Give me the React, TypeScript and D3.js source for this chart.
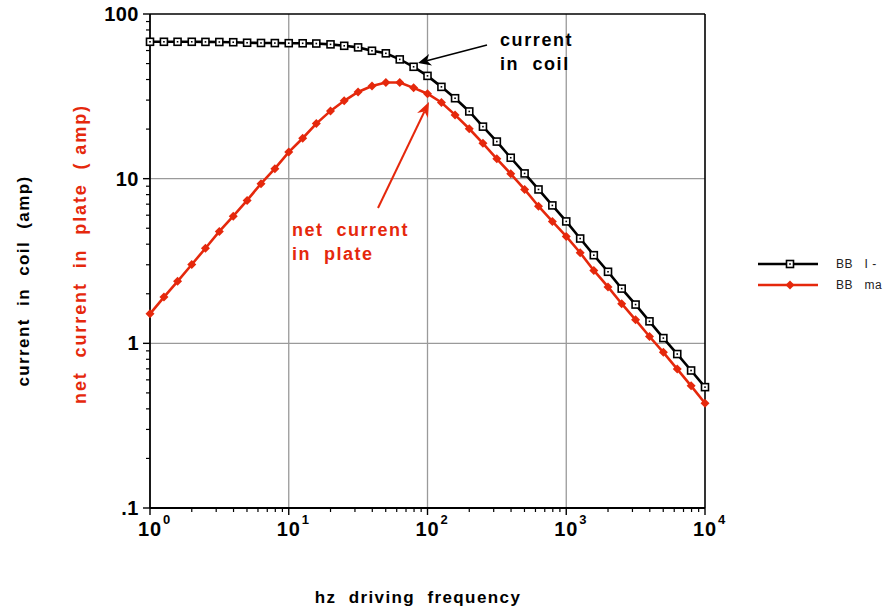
import React from "react";
import * as d3 from "d3";

// Driving frequency (Hz), ten log-spaced steps per decade
const freqHz = [
  1, 1.26, 1.58, 2, 2.51, 3.16, 3.98, 5.01, 6.31, 7.94,
  10, 12.6, 15.8, 20, 25.1, 31.6, 39.8, 50.1, 63.1, 79.4,
  100, 126, 158, 200, 251, 316, 398, 501, 631, 794,
  1000, 1260, 1580, 2000, 2510, 3160, 3980, 5010, 6310, 7940,
  10000,
];

// Current in coil (amp)
const coilAmp = [
  67.8, 67.8, 67.8, 67.8, 67.7, 67.6, 67.4, 66.9, 66.7, 66.6,
  66.5, 66.4, 66.2, 65.4, 64.1, 62.7, 59.8, 57.7, 53.0, 47.8,
  42.1, 36.1, 30.8, 25.6, 20.7, 16.8, 13.4, 10.76, 8.6, 6.88,
  5.5, 4.33, 3.43, 2.72, 2.15, 1.72, 1.36, 1.076, 0.861, 0.684,
  0.542,
];

// Net current in plate (amp)
const plateAmp = [
  1.51, 1.91, 2.38, 3.01, 3.78, 4.78, 5.92, 7.38, 9.33, 11.5,
  14.5, 17.6, 21.6, 25.8, 29.7, 33.6, 36.5, 38.4, 38.4, 35.6,
  32.8, 29.0, 24.4, 20.1, 16.4, 13.2, 10.7, 8.6, 6.8, 5.5,
  4.46, 3.55, 2.77, 2.2, 1.74, 1.39, 1.1, 0.882, 0.698, 0.552,
  0.433,
];

const yTickValues = [100, 10, 1, 0.1];
const yTickLabels = ["100", "10", "1", ".1"];
const xTickValues = [1, 10, 100, 1000, 10000];
const xTickExponents = ["0", "1", "2", "3", "4"];

const legendLabels = ["BB   I -", "BB   ma"];

const RED = "#e5280c";
const FONT = "'Liberation Sans', Arial, sans-serif";

export default function App() {
  const W = 886;
  const H = 610;
  const x = d3.scaleLog().domain([1, 1e4]).range([150, 705]);
  const y = d3.scaleLog().domain([0.1, 100]).range([508, 14]);

  const line = d3
    .line<number>()
    .x((_, i) => x(freqHz[i]))
    .y((d) => y(d));

  // minor ticks 2..9 inside every decade
  const xMinor: number[] = [];
  for (let e = 0; e < 4; e++) for (let k = 2; k <= 9; k++) xMinor.push(k * 10 ** e);
  const yMinor: number[] = [];
  for (let e = -1; e < 2; e++) for (let k = 2; k <= 9; k++) yMinor.push(k * 10 ** e);

  const x0 = x(1), x1 = x(1e4), yTop = y(100), yBot = y(0.1);

  const square = (cx: number, cy: number, key: string) => (
    <g key={key}>
      <rect x={cx - 3.5} y={cy - 3.5} width={7} height={7} fill="#fff" stroke="#000" strokeWidth={1.6} />
      <rect x={cx - 0.8} y={cy - 0.8} width={1.6} height={1.6} fill="#000" />
    </g>
  );
  const diamond = (cx: number, cy: number, key: string) => (
    <path key={key} d={`M${cx},${cy - 4.5}L${cx + 4.5},${cy}L${cx},${cy + 4.5}L${cx - 4.5},${cy}Z`} fill={RED} />
  );

  // arrow helper: line from (ax,ay) to tip (bx,by) with filled barbed head
  const arrow = (ax: number, ay: number, bx: number, by: number, color: string, w: number, len: number, half: number) => {
    const ang = Math.atan2(by - ay, bx - ax);
    const ux = Math.cos(ang), uy = Math.sin(ang);
    const px = -uy, py = ux;
    const bxL = bx - ux * len + px * half, byL = by - uy * len + py * half;
    const bxR = bx - ux * len - px * half, byR = by - uy * len - py * half;
    const nx = bx - ux * len * 0.7, ny = by - uy * len * 0.7;
    return (
      <g>
        <line x1={ax} y1={ay} x2={nx} y2={ny} stroke={color} strokeWidth={w} />
        <path d={`M${bx},${by}L${bxL},${byL}L${nx},${ny}L${bxR},${byR}Z`} fill={color} />
      </g>
    );
  };

  return (
    <svg width={W} height={H} style={{ position: "absolute", left: 0, top: 0, background: "#fff" }} fontFamily={FONT}>
      {/* grid */}
      {[10, 100, 1000].map((v) => (
        <line key={"gx" + v} x1={x(v)} x2={x(v)} y1={yTop} y2={yBot} stroke="#9a9a9a" strokeWidth={1.3} />
      ))}
      {[10, 1].map((v) => (
        <line key={"gy" + v} x1={x0} x2={x1} y1={y(v)} y2={y(v)} stroke="#9a9a9a" strokeWidth={1.3} />
      ))}

      {/* frame */}
      <line x1={x0} x2={x1} y1={yTop} y2={yTop} stroke="#000" strokeWidth={1.6} />
      <line x1={x1} x2={x1} y1={yTop} y2={yBot} stroke="#000" strokeWidth={1.6} />
      <line x1={x0} x2={x0} y1={yTop} y2={yBot} stroke="#000" strokeWidth={1.8} />
      <line x1={x0} x2={x1} y1={yBot} y2={yBot} stroke="#000" strokeWidth={1.8} />

      {/* ticks */}
      {xMinor.map((v) => (
        <line key={"xm" + v} x1={x(v)} x2={x(v)} y1={yBot} y2={yBot + 4} stroke="#000" strokeWidth={1.2} />
      ))}
      {xTickValues.map((v) => (
        <line key={"xM" + v} x1={x(v)} x2={x(v)} y1={yBot} y2={yBot + 7} stroke="#000" strokeWidth={1.4} />
      ))}
      {yMinor.map((v) => (
        <line key={"ym" + v} x1={x0 - 4} x2={x0} y1={y(v)} y2={y(v)} stroke="#000" strokeWidth={1.2} />
      ))}
      {yTickValues.map((v) => (
        <line key={"yM" + v} x1={x0 - 7} x2={x0} y1={y(v)} y2={y(v)} stroke="#000" strokeWidth={1.4} />
      ))}

      {/* tick labels */}
      {yTickValues.map((v, i) => (
        <text key={"yl" + v} x={139} y={y(v) + 7} textAnchor="end" fontSize={20} fontWeight="bold" letterSpacing={0.5}>
          {yTickLabels[i]}
        </text>
      ))}
      {xTickValues.map((v, i) => (
        <g key={"xl" + v}>
          <text x={x(v)} y={536} textAnchor="middle" fontSize={20} fontWeight="bold" letterSpacing={0.8}>10</text>
          <text x={x(v) + 13} y={524} fontSize={13} fontWeight="bold">{xTickExponents[i]}</text>
        </g>
      ))}

      {/* series */}
      <path d={line(coilAmp) || ""} fill="none" stroke="#000" strokeWidth={2.6} />
      <path d={line(plateAmp) || ""} fill="none" stroke={RED} strokeWidth={2.6} />
      {plateAmp.map((v, i) => diamond(x(freqHz[i]), y(v), "p" + i))}
      {coilAmp.map((v, i) => square(x(freqHz[i]), y(v), "c" + i))}

      {/* annotations */}
      {arrow(487, 45, 418, 63, "#000", 1.6, 13, 6)}
      {arrow(378, 208, 429, 102, RED, 2, 15, 6)}
      <text x={500} y={46} fontSize={18} fontWeight="bold" letterSpacing={1.6}>current</text>
      <text x={500} y={70} fontSize={18} fontWeight="bold" letterSpacing={1.6} style={{ whiteSpace: "pre" }}>in  coil</text>
      <text x={292} y={236} fontSize={18} fontWeight="bold" fill={RED} letterSpacing={1.5} style={{ whiteSpace: "pre" }}>net  current</text>
      <text x={292} y={260} fontSize={18} fontWeight="bold" fill={RED} letterSpacing={1.5} style={{ whiteSpace: "pre" }}>in  plate</text>

      {/* axis titles */}
      <text transform="translate(29,281) rotate(-90)" textAnchor="middle" fontSize={17} fontWeight="bold" letterSpacing={1.4} style={{ whiteSpace: "pre" }}>
        current  in  coil  (amp)
      </text>
      <text transform="translate(86,254) rotate(-90)" textAnchor="middle" fontSize={18} fontWeight="bold" fill={RED} letterSpacing={1.9} style={{ whiteSpace: "pre" }}>
        net  current  in  plate  ( amp)
      </text>
      <text x={418} y={603} textAnchor="middle" fontSize={17} fontWeight="bold" letterSpacing={1.4} style={{ whiteSpace: "pre" }}>
        hz  driving  frequency
      </text>

      {/* legend */}
      <line x1={758} x2={818} y1={264} y2={264} stroke="#000" strokeWidth={2.6} />
      {square(790, 264, "lg0")}
      <line x1={758} x2={818} y1={285} y2={285} stroke={RED} strokeWidth={2.6} />
      {diamond(790, 285, "lg1")}
      <text x={836} y={268} fontSize={12} fill="#222" letterSpacing={0.5} style={{ whiteSpace: "pre" }}>{legendLabels[0]}</text>
      <text x={836} y={289} fontSize={12} fill="#222" letterSpacing={0.5} style={{ whiteSpace: "pre" }}>{legendLabels[1]}</text>
    </svg>
  );
}
